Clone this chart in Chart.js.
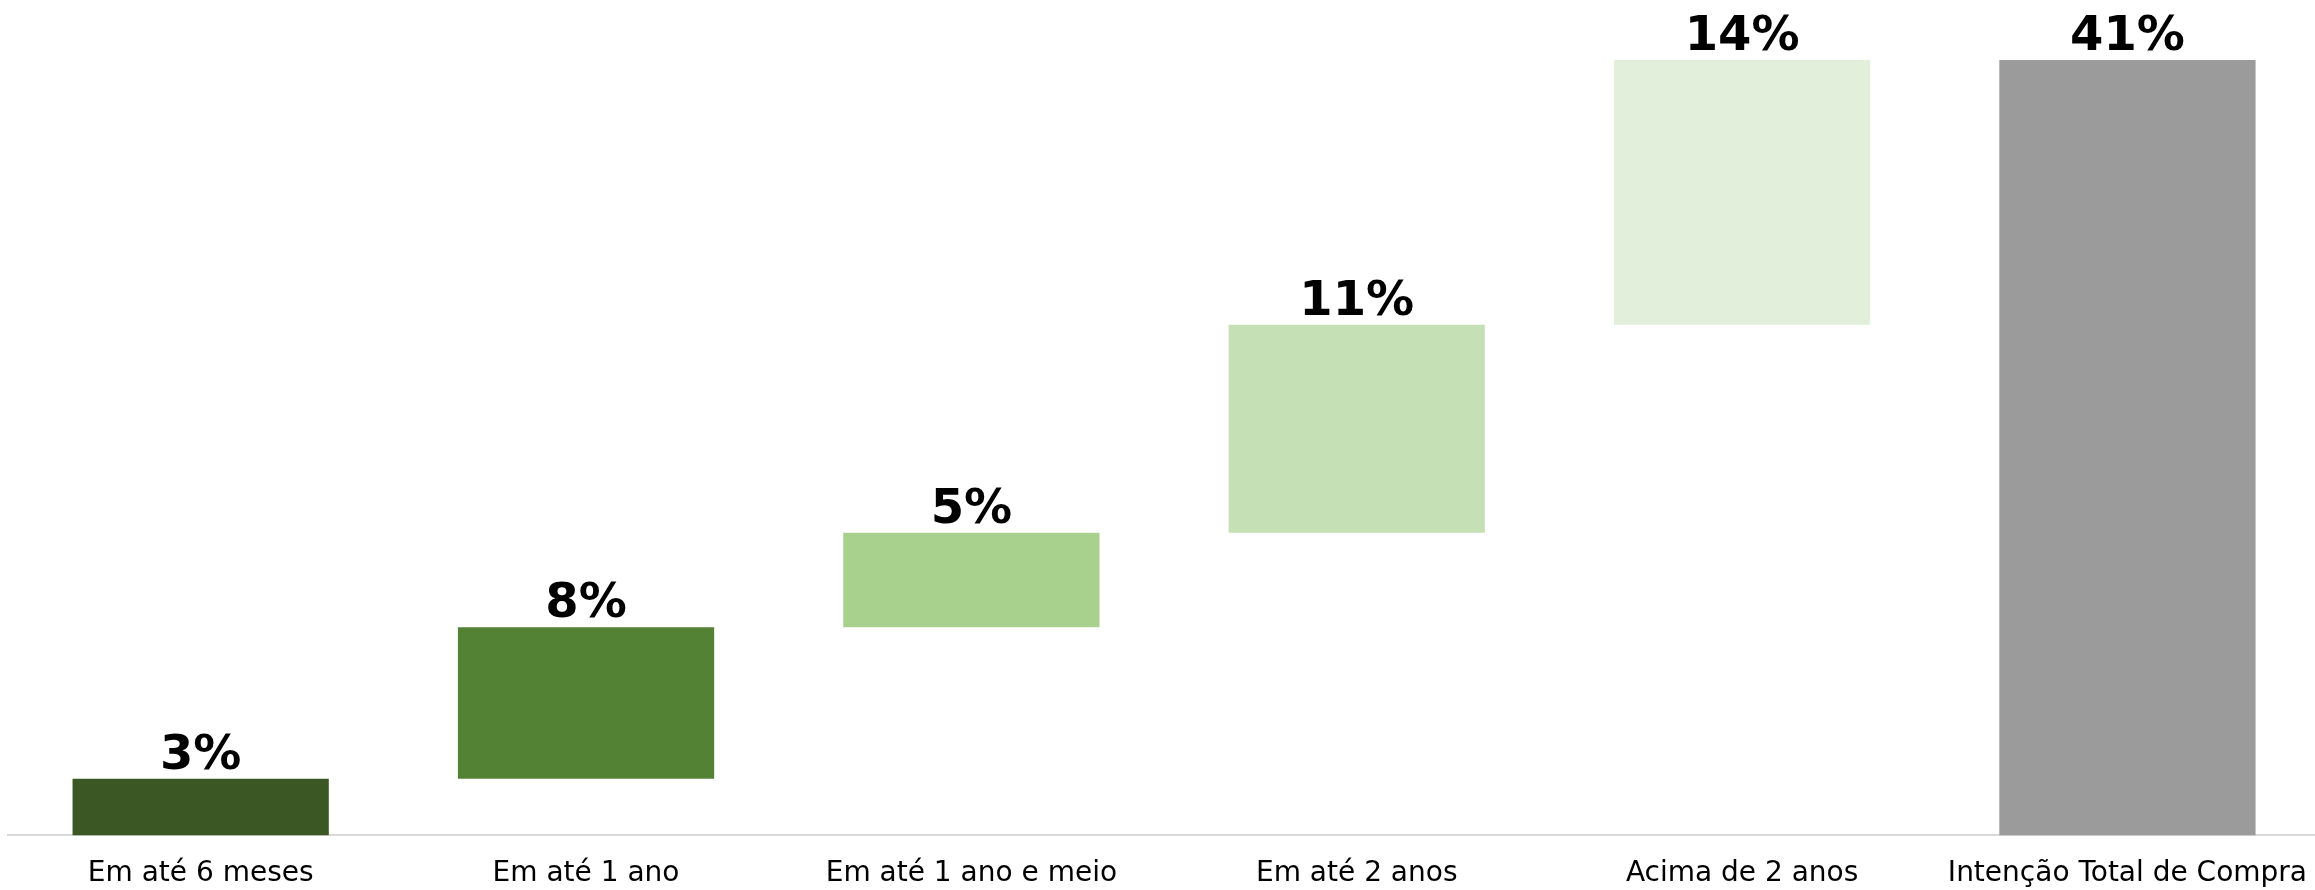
<!DOCTYPE html>
<html>
<head>
<meta charset="utf-8">
<script src="https://cdn.jsdelivr.net/npm/chart.js@4"></script>
<style>
  html, body { margin: 0; padding: 0; background: #fff; overflow: hidden; }
  #wrap { width: 2329px; height: 914px; }
</style>
</head>
<body>
<div id="wrap"><canvas id="chart"></canvas></div>
<script>
// categories and values (percent)
const categories = ['Em até 6 meses', 'Em até 1 ano', 'Em até 1 ano e meio', 'Em até 2 anos', 'Acima de 2 anos', 'Intenção Total de Compra'];
const steps = [3, 8, 5, 11, 14];
const total = 41;
const barColors = ['#3A5724', '#548235', '#A9D18E', '#C5E0B4', '#E2EFDA', '#9B9B9B'];

// waterfall ranges built from the steps
const ranges = [];
let run = 0;
steps.forEach(v => { ranges.push([run, run + v]); run += v; });
ranges.push([0, total]);
const shown = steps.concat([total]);

const valueLabels = {
  id: 'valueLabels',
  afterDatasetsDraw(chart) {
    const ctx = chart.ctx;
    const meta = chart.getDatasetMeta(0);
    ctx.save();
    ctx.font = 'bold 48px "DejaVu Sans"';
    ctx.fillStyle = '#000';
    ctx.textAlign = 'center';
    ctx.textBaseline = 'alphabetic';
    meta.data.forEach((bar, i) => {
      ctx.fillText(shown[i] + '%', bar.x, bar.y - 10);
    });
    ctx.restore();
  }
};

new Chart(document.getElementById('chart'), {
  type: 'bar',
  data: {
    labels: categories,
    datasets: [{
      data: ranges,
      backgroundColor: barColors,
      borderWidth: 0,
      barPercentage: 0.665,
      categoryPercentage: 1
    }]
  },
  options: {
    responsive: true,
    maintainAspectRatio: false,
    animation: false,
    layout: { padding: { top: 60, left: 8, right: 0, bottom: 1 } },
    plugins: { legend: { display: false }, tooltip: { enabled: false } },
    scales: {
      x: {
        grid: { display: false, drawTicks: false },
        border: { display: true, color: '#D9D9D9', width: 2 },
        ticks: {
          color: '#000',
          font: { family: '"DejaVu Sans"', size: 28 },
          padding: 22,
          maxRotation: 0,
          autoSkip: false
        }
      },
      y: {
        display: false,
        min: 0,
        max: total
      }
    }
  },
  plugins: [valueLabels]
});
</script>
</body>
</html>
